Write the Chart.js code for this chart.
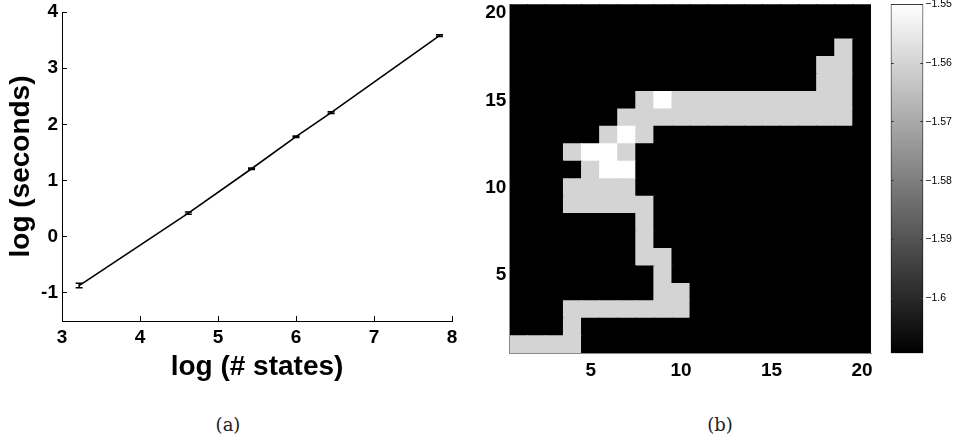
<!DOCTYPE html>
<html><head><meta charset="utf-8">
<script src="https://cdn.jsdelivr.net/npm/chart.js@4.4.1/dist/chart.umd.min.js"></script>
<style>
html,body{margin:0;padding:0;background:#fff;width:959px;height:441px;overflow:hidden;position:relative}
canvas{position:absolute;top:0}
#cA{left:0}
#cB{left:480px}
#cC{left:880px}
.cap{position:absolute;font-family:"DejaVu Serif","Liberation Serif",serif;font-size:18px;color:#222;transform:translate(-50%,-50%);white-space:nowrap}
</style></head><body>
<canvas id="cA" width="480" height="400" style="width:480px;height:400px"></canvas>
<canvas id="cB" width="400" height="400" style="width:400px;height:400px"></canvas>
<canvas id="cC" width="79" height="400" style="width:79px;height:400px"></canvas>
<div class="cap" style="left:228px;top:424px">(a)</div>
<div class="cap" style="left:720px;top:424px">(b)</div>
<script>
// ---- panel (a) data ----
const logStates = [3.22, 4.62, 5.43, 6.00, 6.45, 7.84];
const logSeconds = [-0.87, 0.42, 1.21, 1.78, 2.21, 3.58];
const logSecondsErr = [0.04, 0.02, 0.015, 0.015, 0.015, 0.015];
const xTicksA = [3, 4, 5, 6, 7, 8];
const yTicksA = [-1, 0, 1, 2, 3, 4];

// ---- panel (b) data ----
const B = -1.6094, G = -1.5600, W = -1.5499;
const heatCols = ['1','2','3','4','5','6','7','8','9','10','11','12','13','14','15','16','17','18','19','20'];
const heatTicks = [5, 10, 15, 20];
const row20 = [B,B,B,B,B,B,B,B,B,B,B,B,B,B,B,B,B,B,B,B];
const row19 = [B,B,B,B,B,B,B,B,B,B,B,B,B,B,B,B,B,B,B,B];
const row18 = [B,B,B,B,B,B,B,B,B,B,B,B,B,B,B,B,B,B,G,B];
const row17 = [B,B,B,B,B,B,B,B,B,B,B,B,B,B,B,B,B,G,G,B];
const row16 = [B,B,B,B,B,B,B,B,B,B,B,B,B,B,B,B,B,G,G,B];
const row15 = [B,B,B,B,B,B,B,G,W,G,G,G,G,G,G,G,G,G,G,B];
const row14 = [B,B,B,B,B,B,G,G,G,G,G,G,G,G,G,G,G,G,G,B];
const row13 = [B,B,B,B,B,G,W,G,B,B,B,B,B,B,B,B,B,B,B,B];
const row12 = [B,B,B,G,W,W,G,B,B,B,B,B,B,B,B,B,B,B,B,B];
const row11 = [B,B,B,B,G,W,W,B,B,B,B,B,B,B,B,B,B,B,B,B];
const row10 = [B,B,B,G,G,G,G,B,B,B,B,B,B,B,B,B,B,B,B,B];
const row9  = [B,B,B,G,G,G,G,G,B,B,B,B,B,B,B,B,B,B,B,B];
const row8  = [B,B,B,B,B,B,B,G,B,B,B,B,B,B,B,B,B,B,B,B];
const row7  = [B,B,B,B,B,B,B,G,B,B,B,B,B,B,B,B,B,B,B,B];
const row6  = [B,B,B,B,B,B,B,G,G,B,B,B,B,B,B,B,B,B,B,B];
const row5  = [B,B,B,B,B,B,B,B,G,B,B,B,B,B,B,B,B,B,B,B];
const row4  = [B,B,B,B,B,B,B,B,G,G,B,B,B,B,B,B,B,B,B,B];
const row3  = [B,B,B,G,G,G,G,G,G,G,B,B,B,B,B,B,B,B,B,B];
const row2  = [B,B,B,G,B,B,B,B,B,B,B,B,B,B,B,B,B,B,B,B];
const row1  = [G,G,G,G,B,B,B,B,B,B,B,B,B,B,B,B,B,B,B,B];
const heatRows = [row1,row2,row3,row4,row5,row6,row7,row8,row9,row10,row11,row12,row13,row14,row15,row16,row17,row18,row19,row20];

// ---- colorbar ----
const cbMin = -1.6094, cbMax = -1.5499;
const cbTicks = [-1.6, -1.59, -1.58, -1.57, -1.56, -1.55];

function grayFor(v){
  let t = (v - cbMin) / (cbMax - cbMin);
  t = Math.max(0, Math.min(1, t));
  const g = Math.round(255 * t);
  return 'rgb(' + g + ',' + g + ',' + g + ')';
}

const SANS = '"Liberation Sans", Arial, Helvetica, sans-serif';
function noPad(s){ s.paddingTop = 0; s.paddingBottom = 0; s.paddingLeft = 0; s.paddingRight = 0; }

const errorBars = {
  id: 'errorBars',
  afterDatasetsDraw(chart){
    const ctx = chart.ctx, xs = chart.scales.x, ys = chart.scales.y;
    ctx.save();
    ctx.strokeStyle = '#000';
    ctx.lineWidth = 1.5;
    logStates.forEach((x, i) => {
      const px = xs.getPixelForValue(x);
      const pyl = ys.getPixelForValue(logSeconds[i] - logSecondsErr[i]);
      const pyh = ys.getPixelForValue(logSeconds[i] + logSecondsErr[i]);
      ctx.beginPath();
      ctx.moveTo(px, pyl); ctx.lineTo(px, pyh);
      ctx.moveTo(px - 3.5, pyl); ctx.lineTo(px + 3.5, pyl);
      ctx.moveTo(px - 3.5, pyh); ctx.lineTo(px + 3.5, pyh);
      ctx.stroke();
    });
    ctx.restore();
  }
};

new Chart(document.getElementById('cA'), {
  type: 'scatter',
  data: { datasets: [{
    data: logStates.map((x, i) => ({ x: x, y: logSeconds[i] })),
    showLine: true, borderColor: '#000', borderWidth: 1.6,
    pointRadius: 0, fill: false, tension: 0
  }]},
  options: {
    responsive: false, animation: false, events: [],
    layout: { padding: { left: 0, right: 28, top: 12, bottom: 0 } },
    plugins: { legend: { display: false }, tooltip: { enabled: false } },
    scales: {
      x: {
        type: 'linear', min: 3, max: 8,
        afterBuildTicks: s => { s.ticks = xTicksA.map(v => ({ value: v })); },
        afterFit: s => { s.height = 79; noPad(s); },
        grid: { display: true, drawOnChartArea: false, drawTicks: true, tickLength: -5, tickColor: '#000', tickWidth: 1 },
        border: { display: true, color: '#000', width: 1 },
        ticks: { color: '#000', font: { family: SANS, size: 19, weight: 'bold' }, padding: 10, maxRotation: 0, autoSkip: false },
        title: { display: true, text: 'log (# states)', color: '#000', font: { family: SANS, size: 28, weight: 'bold' }, padding: { top: 0, bottom: 16 } }
      },
      y: {
        type: 'linear', min: -1.5, max: 4,
        afterBuildTicks: s => { s.ticks = yTicksA.map(v => ({ value: v })); },
        afterFit: s => { s.width = 62; noPad(s); },
        grid: { display: true, drawOnChartArea: false, drawTicks: true, tickLength: -5, tickColor: '#000', tickWidth: 1 },
        border: { display: true, color: '#000', width: 1 },
        ticks: { color: '#000', font: { family: SANS, size: 19, weight: 'bold' }, padding: 9, autoSkip: false },
        title: { display: true, text: 'log (seconds)', color: '#000', font: { family: SANS, size: 28, weight: 'bold' }, padding: { top: 4, bottom: 0 } }
      }
    }
  },
  plugins: [errorBars]
});

const heatDatasets = heatRows.map((row, ri) => {
  const r = ri + 1;
  return {
    data: row.map(() => [r - 0.5, r + 0.5]),
    backgroundColor: row.map(v => grayFor(v)),
    borderWidth: 0,
    grouped: false,
    barPercentage: 1,
    categoryPercentage: 1,
    inflateAmount: 0.6
  };
});

new Chart(document.getElementById('cB'), {
  type: 'bar',
  data: { labels: heatCols, datasets: heatDatasets },
  options: {
    responsive: false, animation: false, events: [],
    layout: { padding: { left: 0, right: 9, top: 4.3, bottom: 0 } },
    plugins: { legend: { display: false }, tooltip: { enabled: false } },
    scales: {
      x: {
        type: 'category',
        afterFit: s => { s.height = 46.7; noPad(s); },
        grid: { display: false, drawTicks: false },
        border: { display: true, color: '#888', width: 1, z: 1 },
        ticks: {
          color: '#000', font: { family: SANS, size: 19, weight: 'bold' }, padding: 6, autoSkip: false, maxRotation: 0,
          callback: function(value){ const lab = this.getLabelForValue(value); return heatTicks.includes(+lab) ? lab : ''; }
        }
      },
      y: {
        type: 'linear', min: 0.5, max: 20.5,
        afterBuildTicks: s => { s.ticks = heatTicks.map(v => ({ value: v })); },
        afterFit: s => { s.width = 29.3; noPad(s); },
        grid: { display: false, drawTicks: false },
        border: { display: true, color: '#888', width: 1, z: 1 },
        ticks: { color: '#000', font: { family: SANS, size: 19, weight: 'bold' }, padding: 3, autoSkip: false }
      }
    }
  }
});

function fmtCb(v){ return '\u2212' + Math.abs(Number(v.toFixed(2))).toString(); }
new Chart(document.getElementById('cC'), {
  type: 'bar',
  data: { labels: [''], datasets: [{
    data: [[cbMin, cbMax]],
    backgroundColor: (c) => {
      const chart = c.chart, a = chart.chartArea;
      if (!a) return '#888';
      const g = chart.ctx.createLinearGradient(0, a.bottom, 0, a.top);
      g.addColorStop(0, grayFor(cbMin));
      g.addColorStop(1, grayFor(cbMax));
      return g;
    },
    borderColor: '#000', borderWidth: 1, borderSkipped: false,
    barPercentage: 1, categoryPercentage: 1
  }]},
  options: {
    responsive: false, animation: false, events: [],
    layout: { padding: { left: 0, right: 0, top: 4, bottom: 46.7 } },
    plugins: { legend: { display: false }, tooltip: { enabled: false } },
    scales: {
      x: { display: false },
      y: {
        position: 'right', min: cbMin, max: cbMax,
        afterBuildTicks: s => { s.ticks = cbTicks.map(v => ({ value: v })); },
        afterFit: s => { s.width = 35.7; noPad(s); },
        grid: { display: true, drawOnChartArea: false, drawTicks: true, tickLength: -3, tickColor: '#333', z: 1 },
        border: { display: false },
        ticks: { color: '#000', font: { family: SANS, size: 10.5 }, padding: 5, autoSkip: false, callback: v => fmtCb(v) }
      },
      yL: {
        position: 'left', min: cbMin, max: cbMax,
        afterBuildTicks: s => { s.ticks = cbTicks.map(v => ({ value: v })); },
        afterFit: s => { s.width = 10.7; noPad(s); },
        grid: { display: true, drawOnChartArea: false, drawTicks: true, tickLength: -3, tickColor: '#333', z: 1 },
        border: { display: false },
        ticks: { display: false }
      }
    }
  }
});
</script>
</body></html>
